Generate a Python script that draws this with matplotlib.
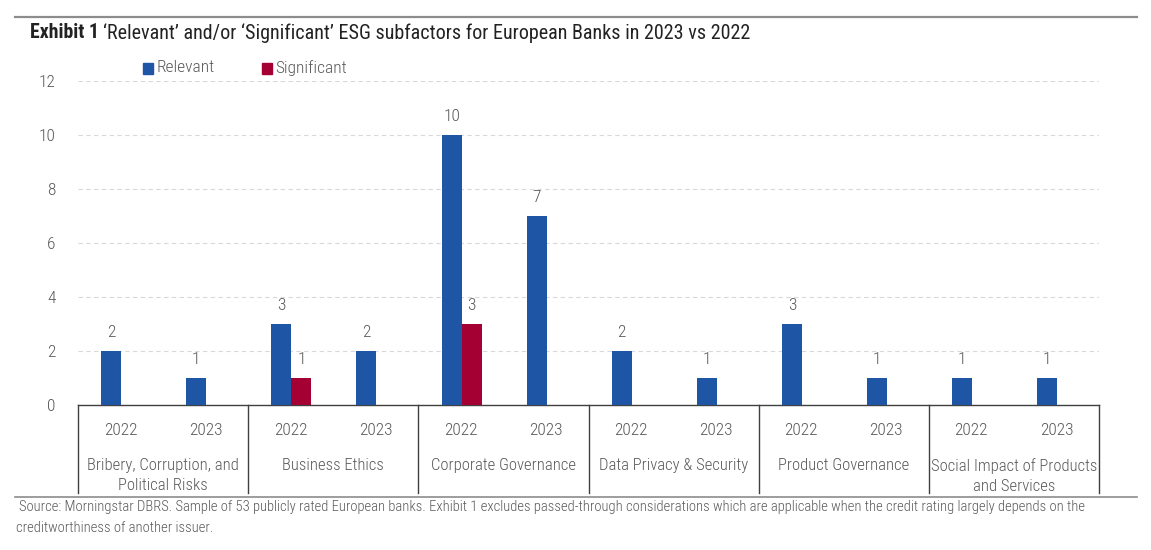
import numpy as np
import matplotlib
matplotlib.use("Agg")
import matplotlib.pyplot as plt
from matplotlib.lines import Line2D
from matplotlib.patches import Rectangle

plt.rcParams["font.family"] = ["Roboto Condensed", "Roboto", "DejaVu Sans"]
plt.rcParams["font.weight"] = "light"

BLUE, RED, GREY, INK = "#1F55A5", "#A50034", "#595959", "#222222"

groups = ["Bribery, Corruption, and\nPolitical Risks", "Business Ethics", "Corporate Governance",
          "Data Privacy & Security", "Product Governance", "Social Impact of Products\nand Services"]
years = ["2022", "2023"]
relevant = [2, 1, 3, 2, 10, 7, 2, 1, 3, 1, 1, 1]
significant = [0, 0, 1, 0, 3, 0, 0, 0, 0, 0, 0, 0]

W, H = 1151, 550
fig = plt.figure(figsize=(W / 100, H / 100), dpi=100)
ax = fig.add_axes([78 / W, (H - 405) / H, (1099 - 78) / W, (405 - 81) / H])

x = np.arange(len(relevant))
bw = 0.235
rb = ax.bar(x - 0.11, relevant, bw, color=BLUE, label="Relevant", zorder=3)
sb = ax.bar(x + 0.125, significant, bw, color=RED, label="Significant", zorder=3)
for bars, vals in ((rb, relevant), (sb, significant)):
    for b, v in zip(bars, vals):
        if v:
            ax.text(b.get_x() + b.get_width() / 2, v + 0.4, str(v), ha="center", va="bottom",
                    fontsize=12.5, color=GREY)

ax.set_xlim(-0.5, len(relevant) - 0.5)
ax.set_ylim(0, 12)
ax.set_yticks(range(0, 13, 2))
ax.yaxis.grid(True, ls=(0, (4, 3)), color="#D9D9D9", lw=0.8, zorder=0)
ax.set_xticks(x)
ax.set_xticklabels(years * len(groups))
ax.tick_params(axis="x", length=0, pad=13, labelsize=12.5, labelcolor=GREY)
ax.tick_params(axis="y", length=0, pad=16, labelsize=12.5, labelcolor=GREY)
for s in ("top", "right", "left"):
    ax.spines[s].set_visible(False)
ax.spines["bottom"].set_color("#404040")
ax.spines["bottom"].set_linewidth(1.0)

# group separators and group labels
trans = ax.get_xaxis_transform()
for k in range(len(groups) + 1):
    xb = -0.5 + 2 * k
    ax.add_line(Line2D([xb, xb], [0, -0.272], transform=trans, color="#404040", lw=1.0, clip_on=False))
for k, g in enumerate(groups):
    ax.text(2 * k + 0.5, -0.165, g, transform=trans, ha="center", va="top", fontsize=12,
            color=GREY, linespacing=1.4)

# legend
fig.patches.append(Rectangle((143 / W, (H - 74) / H), 10 / W, 11 / H, transform=fig.transFigure,
                             color=BLUE))
fig.text(157 / W, (H - 68) / H, "Relevant", fontsize=12.5, color=GREY, va="center")
fig.patches.append(Rectangle((262 / W, (H - 74) / H), 10 / W, 11 / H, transform=fig.transFigure,
                             color=RED))
fig.text(275 / W, (H - 68) / H, "Significant", fontsize=12.5, color=GREY, va="center")

# header / footer lines
fig.add_artist(Line2D([15 / W, 1137 / W], [(H - 17) / H] * 2, color="#8C8C8C", lw=1.6))
fig.add_artist(Line2D([15 / W, 1137 / W], [(H - 497) / H] * 2, color="#8C8C8C", lw=1.2))

t1 = fig.text(30 / W, (H - 33) / H, "Exhibit 1", fontsize=14.2, fontweight="bold", color=INK,
              va="center")
fig.canvas.draw()
bb = t1.get_window_extent()
fig.text((bb.x1 + 4) / W, (H - 33) / H,
         "\u2018Relevant\u2019 and/or \u2018Significant\u2019 ESG subfactors for European Banks in 2023 vs 2022",
         fontsize=14.5, fontweight="normal", color=INK, va="center")

fig.text(19 / W, (H - 507) / H,
         "Source: Morningstar DBRS. Sample of 53 publicly rated European banks. Exhibit 1 excludes "
         "passed-through considerations which are applicable when the credit rating largely depends on the",
         fontsize=10.55, color=GREY, va="center")
fig.text(16 / W, (H - 528) / H, "creditworthiness of another issuer.", fontsize=10.55, color=GREY,
         va="center")

fig.savefig("out.png", dpi=100)
